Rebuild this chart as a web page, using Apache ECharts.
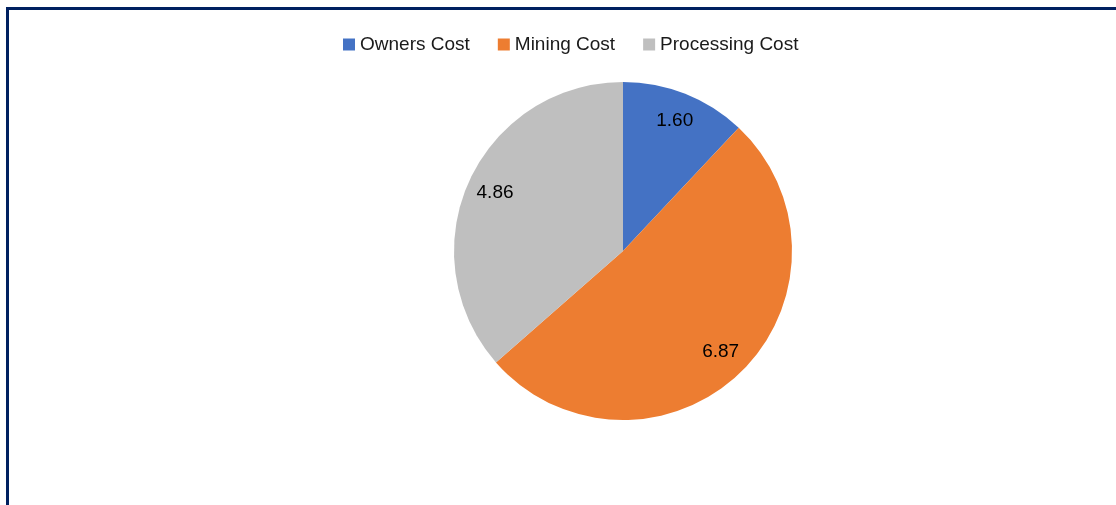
<!DOCTYPE html>
<html>
<head>
<meta charset="utf-8">
<script src="https://cdn.jsdelivr.net/npm/echarts@6/dist/echarts.min.js"></script>
<style>
  html, body { margin: 0; padding: 0; background: #ffffff; }
  #frame {
    position: absolute; left: 6px; top: 7px; width: 1110px; height: 498px;
    border-left: 3px solid #002060; border-top: 3px solid #002060;
    box-sizing: border-box;
  }
  #chart { position: absolute; left: 0; top: 0; width: 1116px; height: 505px; }
</style>
</head>
<body>
<div id="frame"></div>
<div id="chart"></div>
<script>
// Cost breakdown
const categories = ['Owners Cost', 'Mining Cost', 'Processing Cost'];
const costValues = [1.60, 6.87, 4.86];
const sliceColors = ['#4472C4', '#ED7D31', '#BFBFBF'];

const pieData = categories.map((name, i) => ({ name: name, value: costValues[i] }));
const FONT = 'Liberation Sans, Arial, sans-serif';

const chart = echarts.init(document.getElementById('chart'), null, { renderer: 'canvas' });
chart.setOption({
  backgroundColor: 'transparent',
  color: sliceColors,
  animation: false,
  legend: {
    data: categories,
    top: 30,
    left: 338,
    itemWidth: 12,
    itemHeight: 12,
    itemGap: 28,
    icon: 'rect',
    textStyle: { fontFamily: FONT, fontSize: 19, color: '#1a1a1a' }
  },
  series: [
    {
      type: 'pie',
      center: [623, 251],
      radius: [0, 169],
      startAngle: 90,
      clockwise: true,
      data: pieData,
      label: { show: false },
      labelLine: { show: false },
      emphasis: { disabled: true }
    },
    {
      // transparent ring that carries the value labels near the rim
      type: 'pie',
      center: [623, 251],
      radius: [106, 169],
      startAngle: 90,
      clockwise: true,
      data: pieData,
      silent: true,
      legendHoverLink: false,
      itemStyle: { color: 'rgba(0,0,0,0)' },
      label: {
        show: true,
        position: 'inside',
        formatter: p => p.value.toFixed(2),
        fontFamily: FONT,
        fontSize: 19,
        color: '#000000'
      },
      labelLine: { show: false },
      emphasis: { disabled: true }
    }
  ]
});
</script>
</body>
</html>
